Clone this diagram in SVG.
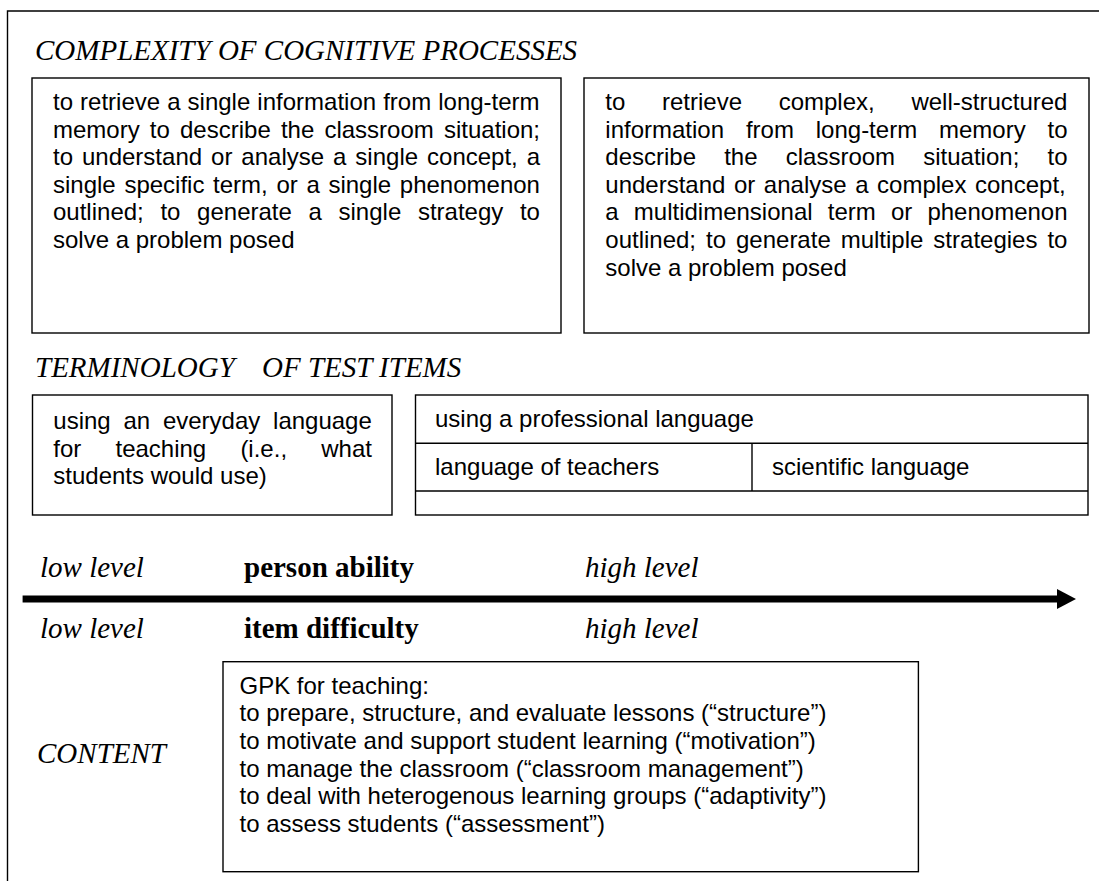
<svg xmlns="http://www.w3.org/2000/svg" width="1099" height="881" viewBox="0 0 1099 881">
<style>
.frame{fill:none;stroke:#000;stroke-width:1.4}
.box{fill:#fff;stroke:#000;stroke-width:1.4}
.sep{stroke:#000;stroke-width:1.4}
.body{font-family:"Liberation Sans",Arial,sans-serif;font-size:24px;fill:#000}
.head{font-family:"Liberation Serif","Times New Roman",serif;font-size:29px;font-style:italic;fill:#000}
.bold{font-family:"Liberation Serif","Times New Roman",serif;font-size:29px;font-weight:bold;fill:#000}
</style>
<defs>
<marker id="ah" markerUnits="userSpaceOnUse" viewBox="0 0 19 20" markerWidth="19" markerHeight="20" refX="0" refY="10" orient="auto">
<path d="M0,0 L19,10 L0,20 Z" fill="#000"/>
</marker>
</defs>
<rect width="1099" height="881" fill="#fff"/>
<path class="frame" d="M7.5,890 L7.5,11 L1105,11"/>

<g id="heading-complexity">
<text class="head" x="35" y="60">COMPLEXITY OF COGNITIVE PROCESSES</text>
</g>

<g id="box-complexity-low">
<rect class="box" x="32" y="78" width="529" height="255"/>
<text class="body" x="53" y="110" word-spacing="0.4">to retrieve a single information from long-term</text>
<text class="body" x="53" y="137.6" word-spacing="3.5">memory to describe the classroom situation;</text>
<text class="body" x="53" y="165.2" word-spacing="2.3">to understand or analyse a single concept, a</text>
<text class="body" x="53" y="192.8" word-spacing="2">single specific term, or a single phenomenon</text>
<text class="body" x="53" y="220.4" word-spacing="10">outlined; to generate a single strategy to</text>
<text class="body" x="53" y="248">solve a problem posed</text>
</g>

<g id="box-complexity-high">
<rect class="box" x="584" y="78" width="505" height="255"/>
<text class="body" x="605.3" y="110" word-spacing="30">to retrieve complex, well-structured</text>
<text class="body" x="605.3" y="137.6" word-spacing="15.2">information from long-term memory to</text>
<text class="body" x="605.3" y="165.2" word-spacing="21.5">describe the classroom situation; to</text>
<text class="body" x="605.3" y="192.8" word-spacing="1.9">understand or analyse a complex concept,</text>
<text class="body" x="605.3" y="220.4" word-spacing="8.5">a multidimensional term or phenomenon</text>
<text class="body" x="605.3" y="248" word-spacing="3.3">outlined; to generate multiple strategies to</text>
<text class="body" x="605.3" y="275.6">solve a problem posed</text>
</g>

<g id="heading-terminology">
<text class="head" x="35" y="376.7">TERMINOLOGY<tspan x="262">OF TEST ITEMS</tspan></text>
</g>

<g id="box-everyday">
<rect class="box" x="32.5" y="395" width="359.5" height="120"/>
<text class="body" x="53.3" y="429" word-spacing="6.1">using an everyday language</text>
<text class="body" x="53.3" y="456.6" word-spacing="27.5">for teaching (i.e., what</text>
<text class="body" x="53.3" y="484.2">students would use)</text>
</g>

<g id="box-professional">
<rect class="box" x="415.5" y="395" width="672.5" height="120"/>
<line class="sep" x1="415.5" y1="443.3" x2="1088" y2="443.3"/>
<line class="sep" x1="415.5" y1="491" x2="1088" y2="491"/>
<line class="sep" x1="752" y1="443.3" x2="752" y2="491"/>
<text class="body" x="435" y="427">using a professional language</text>
<text class="body" x="435" y="475">language of teachers</text>
<text class="body" x="772" y="475">scientific language</text>
</g>

<g id="label-person">
<text class="head" x="40" y="576.7">low level</text>
<text class="bold" x="244" y="576.7">person ability</text>
<text class="head" x="585" y="576.7">high level</text>
</g>

<g id="connectors">
<line x1="22.6" y1="599" x2="1057" y2="599" stroke="#000" stroke-width="7" marker-end="url(#ah)"/>
</g>

<g id="label-item">
<text class="head" x="40" y="638.3">low level</text>
<text class="bold" x="244" y="638.3">item difficulty</text>
<text class="head" x="585" y="638.3">high level</text>
</g>

<g id="label-content">
<text class="head" x="37" y="763.3">CONTENT</text>
</g>

<g id="box-gpk">
<rect class="box" x="223" y="661.7" width="695.4" height="210"/>
<text class="body" x="239.5" y="693.7">GPK for teaching:</text>
<text class="body" x="239.5" y="721.3">to prepare, structure, and evaluate lessons (“structure”)</text>
<text class="body" x="239.5" y="748.9">to motivate and support student learning (“motivation”)</text>
<text class="body" x="239.5" y="776.5">to manage the classroom (“classroom management”)</text>
<text class="body" x="239.5" y="804.1">to deal with heterogenous learning groups (“adaptivity”)</text>
<text class="body" x="239.5" y="831.7">to assess students (“assessment”)</text>
</g>
</svg>
